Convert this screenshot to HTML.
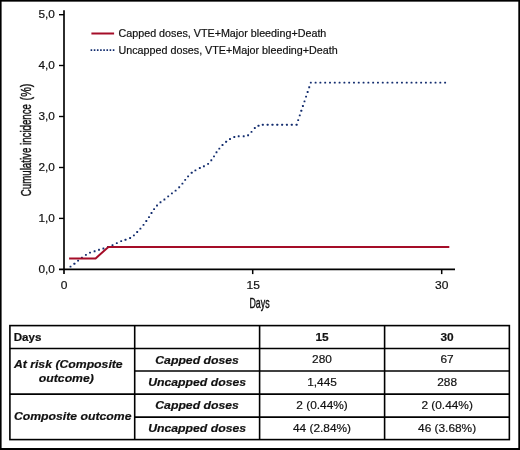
<!DOCTYPE html>
<html>
<head>
<meta charset="utf-8">
<style>
html,body{margin:0;padding:0;background:#fff;}
body{width:520px;height:450px;overflow:hidden;font-family:"Liberation Sans",sans-serif;}
svg{display:block;will-change:transform;}
text{font-family:"Liberation Sans",sans-serif;fill:#111;stroke:#111;stroke-width:0.2px;}
</style>
</head>
<body>
<svg width="520" height="450" viewBox="0 0 520 450">
  <rect x="0" y="0" width="520" height="450" fill="#fff"/>
  <!-- outer border -->
  <rect x="0.75" y="0.8" width="518.4" height="448.3" fill="none" stroke="#000" stroke-width="1.7"/>
  <rect x="0" y="448.05" width="520" height="1.95" fill="#000"/>

  <!-- axes -->
  <g stroke="#000" stroke-width="1.65" fill="none">
    <line x1="64" y1="10.3" x2="64" y2="274.1"/>
    <line x1="59" y1="269.4" x2="455" y2="269.4"/>
    <line x1="59" y1="14.7" x2="64" y2="14.7" stroke-width="1.4"/><line x1="59" y1="65.5" x2="64" y2="65.5" stroke-width="1.4"/><line x1="59" y1="116.5" x2="64" y2="116.5" stroke-width="1.4"/><line x1="59" y1="167.5" x2="64" y2="167.5" stroke-width="1.4"/><line x1="59" y1="218.4" x2="64" y2="218.4" stroke-width="1.4"/>
    <line x1="252.7" y1="269.4" x2="252.7" y2="274.1" stroke-width="1.5"/>
    <line x1="441.7" y1="269.4" x2="441.7" y2="274.1" stroke-width="1.5"/>
  </g>

  <!-- y tick labels -->
  <g font-size="11.4" text-anchor="end"><text x="54.9" y="18.2" textLength="16.4" lengthAdjust="spacingAndGlyphs">5,0</text><text x="54.9" y="69.0" textLength="16.4" lengthAdjust="spacingAndGlyphs">4,0</text><text x="54.9" y="120.0" textLength="16.4" lengthAdjust="spacingAndGlyphs">3,0</text><text x="54.9" y="171.0" textLength="16.4" lengthAdjust="spacingAndGlyphs">2,0</text><text x="54.9" y="221.9" textLength="16.4" lengthAdjust="spacingAndGlyphs">1,0</text><text x="54.9" y="272.9" textLength="16.4" lengthAdjust="spacingAndGlyphs">0,0</text></g>
  <!-- x tick labels -->
  <g font-size="11.4" text-anchor="middle">
    <text x="64" y="288.8" textLength="6.67" lengthAdjust="spacingAndGlyphs">0</text>
    <text x="253.2" y="288.8" textLength="13.36" lengthAdjust="spacingAndGlyphs">15</text>
    <text x="441.7" y="288.8" textLength="13.36" lengthAdjust="spacingAndGlyphs">30</text>
  </g>

  <!-- axis titles -->
  <text transform="translate(30.7,196.2) rotate(-90) scale(0.647,1)" font-size="15" style="stroke-width:0.35px;vector-effect:non-scaling-stroke">Cumulative incidence</text>
  <text transform="translate(30.7,100.4) rotate(-90) scale(0.72,1)" font-size="15" style="stroke-width:0.35px;vector-effect:non-scaling-stroke">(%)</text>
  <text transform="translate(249.5,308) scale(0.63,1)" font-size="14" style="stroke-width:0.35px;vector-effect:non-scaling-stroke">Days</text>

  <!-- legend -->
  <line x1="91.4" y1="33.5" x2="114.1" y2="33.5" stroke="#a50d28" stroke-width="2"/>
  <line x1="90.6" y1="50.2" x2="114.6" y2="50.2" stroke="#122c6e" stroke-width="1.7" stroke-dasharray="1.6 1.57"/>
  <text transform="translate(118.5,37) scale(1.003,0.96)" font-size="10.72">Capped doses, VTE+Major bleeding+Death</text>
  <text transform="translate(118.5,53.5) scale(1.003,0.96)" font-size="10.72">Uncapped doses, VTE+Major bleeding+Death</text>

  <!-- data lines -->
  <g fill="#122c6e"><rect x="69.55" y="265.65" width="1.9" height="1.9" rx="0.5"/><rect x="73.45" y="262.75" width="1.9" height="1.9" rx="0.5"/><rect x="77.15" y="259.65" width="1.9" height="1.9" rx="0.5"/><rect x="80.95" y="256.65" width="1.9" height="1.9" rx="0.5"/><rect x="84.95" y="253.95" width="1.9" height="1.9" rx="0.5"/><rect x="89.05" y="251.65" width="1.9" height="1.9" rx="0.5"/><rect x="93.65" y="250.25" width="1.9" height="1.9" rx="0.5"/><rect x="98.05" y="248.75" width="1.9" height="1.9" rx="0.5"/><rect x="102.45" y="247.55" width="1.9" height="1.9" rx="0.5"/><rect x="106.95" y="245.95" width="1.9" height="1.9" rx="0.5"/><rect x="111.55" y="244.25" width="1.9" height="1.9" rx="0.5"/><rect x="115.85" y="242.15" width="1.9" height="1.9" rx="0.5"/><rect x="120.25" y="240.15" width="1.9" height="1.9" rx="0.5"/><rect x="124.55" y="238.85" width="1.9" height="1.9" rx="0.5"/><rect x="129.15" y="237.05" width="1.9" height="1.9" rx="0.5"/><rect x="132.95" y="234.45" width="1.9" height="1.9" rx="0.5"/><rect x="136.25" y="231.05" width="1.9" height="1.9" rx="0.5"/><rect x="139.45" y="227.65" width="1.9" height="1.9" rx="0.5"/><rect x="142.55" y="223.95" width="1.9" height="1.9" rx="0.5"/><rect x="145.35" y="220.05" width="1.9" height="1.9" rx="0.5"/><rect x="148.05" y="216.15" width="1.9" height="1.9" rx="0.5"/><rect x="150.55" y="212.05" width="1.9" height="1.9" rx="0.5"/><rect x="153.15" y="208.15" width="1.9" height="1.9" rx="0.5"/><rect x="156.05" y="204.55" width="1.9" height="1.9" rx="0.5"/><rect x="159.55" y="201.35" width="1.9" height="1.9" rx="0.5"/><rect x="163.45" y="198.55" width="1.9" height="1.9" rx="0.5"/><rect x="167.25" y="195.45" width="1.9" height="1.9" rx="0.5"/><rect x="170.95" y="192.45" width="1.9" height="1.9" rx="0.5"/><rect x="174.65" y="189.65" width="1.9" height="1.9" rx="0.5"/><rect x="178.25" y="186.25" width="1.9" height="1.9" rx="0.5"/><rect x="181.45" y="182.65" width="1.9" height="1.9" rx="0.5"/><rect x="184.25" y="178.95" width="1.9" height="1.9" rx="0.5"/><rect x="187.15" y="175.45" width="1.9" height="1.9" rx="0.5"/><rect x="190.75" y="171.85" width="1.9" height="1.9" rx="0.5"/><rect x="194.45" y="169.45" width="1.9" height="1.9" rx="0.5"/><rect x="198.85" y="167.05" width="1.9" height="1.9" rx="0.5"/><rect x="202.95" y="165.25" width="1.9" height="1.9" rx="0.5"/><rect x="207.15" y="162.95" width="1.9" height="1.9" rx="0.5"/><rect x="210.35" y="159.35" width="1.9" height="1.9" rx="0.5"/><rect x="213.05" y="155.45" width="1.9" height="1.9" rx="0.5"/><rect x="215.55" y="151.35" width="1.9" height="1.9" rx="0.5"/><rect x="218.35" y="147.65" width="1.9" height="1.9" rx="0.5"/><rect x="221.55" y="144.05" width="1.9" height="1.9" rx="0.5"/><rect x="225.15" y="140.85" width="1.9" height="1.9" rx="0.5"/><rect x="229.05" y="138.05" width="1.9" height="1.9" rx="0.5"/><rect x="233.35" y="136.05" width="1.9" height="1.9" rx="0.5"/><rect x="237.75" y="135.35" width="1.9" height="1.9" rx="0.5"/><rect x="242.75" y="135.35" width="1.9" height="1.9" rx="0.5"/><rect x="247.15" y="134.25" width="1.9" height="1.9" rx="0.5"/><rect x="250.55" y="130.95" width="1.9" height="1.9" rx="0.5"/><rect x="253.85" y="127.05" width="1.9" height="1.9" rx="0.5"/><rect x="257.55" y="124.75" width="1.9" height="1.9" rx="0.5"/><rect x="261.85" y="123.85" width="1.9" height="1.9" rx="0.5"/><rect x="266.68" y="123.85" width="1.9" height="1.9" rx="0.5"/><rect x="271.51" y="123.85" width="1.9" height="1.9" rx="0.5"/><rect x="276.34" y="123.85" width="1.9" height="1.9" rx="0.5"/><rect x="281.16" y="123.85" width="1.9" height="1.9" rx="0.5"/><rect x="285.99" y="123.85" width="1.9" height="1.9" rx="0.5"/><rect x="290.82" y="123.85" width="1.9" height="1.9" rx="0.5"/><rect x="295.65" y="123.85" width="1.9" height="1.9" rx="0.5"/><rect x="297.23" y="119.16" width="1.9" height="1.9" rx="0.5"/><rect x="298.81" y="114.47" width="1.9" height="1.9" rx="0.5"/><rect x="300.38" y="109.78" width="1.9" height="1.9" rx="0.5"/><rect x="301.96" y="105.09" width="1.9" height="1.9" rx="0.5"/><rect x="303.54" y="100.41" width="1.9" height="1.9" rx="0.5"/><rect x="305.12" y="95.72" width="1.9" height="1.9" rx="0.5"/><rect x="306.69" y="91.03" width="1.9" height="1.9" rx="0.5"/><rect x="308.27" y="86.34" width="1.9" height="1.9" rx="0.5"/><rect x="309.85" y="81.65" width="1.9" height="1.9" rx="0.5"/><rect x="314.65" y="81.65" width="1.9" height="1.9" rx="0.5"/><rect x="319.44" y="81.65" width="1.9" height="1.9" rx="0.5"/><rect x="324.24" y="81.65" width="1.9" height="1.9" rx="0.5"/><rect x="329.04" y="81.65" width="1.9" height="1.9" rx="0.5"/><rect x="333.83" y="81.65" width="1.9" height="1.9" rx="0.5"/><rect x="338.63" y="81.65" width="1.9" height="1.9" rx="0.5"/><rect x="343.43" y="81.65" width="1.9" height="1.9" rx="0.5"/><rect x="348.22" y="81.65" width="1.9" height="1.9" rx="0.5"/><rect x="353.02" y="81.65" width="1.9" height="1.9" rx="0.5"/><rect x="357.81" y="81.65" width="1.9" height="1.9" rx="0.5"/><rect x="362.61" y="81.65" width="1.9" height="1.9" rx="0.5"/><rect x="367.41" y="81.65" width="1.9" height="1.9" rx="0.5"/><rect x="372.20" y="81.65" width="1.9" height="1.9" rx="0.5"/><rect x="377.00" y="81.65" width="1.9" height="1.9" rx="0.5"/><rect x="381.80" y="81.65" width="1.9" height="1.9" rx="0.5"/><rect x="386.59" y="81.65" width="1.9" height="1.9" rx="0.5"/><rect x="391.39" y="81.65" width="1.9" height="1.9" rx="0.5"/><rect x="396.19" y="81.65" width="1.9" height="1.9" rx="0.5"/><rect x="400.98" y="81.65" width="1.9" height="1.9" rx="0.5"/><rect x="405.78" y="81.65" width="1.9" height="1.9" rx="0.5"/><rect x="410.58" y="81.65" width="1.9" height="1.9" rx="0.5"/><rect x="415.37" y="81.65" width="1.9" height="1.9" rx="0.5"/><rect x="420.17" y="81.65" width="1.9" height="1.9" rx="0.5"/><rect x="424.96" y="81.65" width="1.9" height="1.9" rx="0.5"/><rect x="429.76" y="81.65" width="1.9" height="1.9" rx="0.5"/><rect x="434.56" y="81.65" width="1.9" height="1.9" rx="0.5"/><rect x="439.35" y="81.65" width="1.9" height="1.9" rx="0.5"/><rect x="444.15" y="81.65" width="1.9" height="1.9" rx="0.5"/></g>
  <polyline fill="none" stroke="#a50d28" stroke-width="2" stroke-linejoin="miter"
    points="69.1,258.4 95.6,258.4 108.4,246.9 449.3,246.9"/>

  <!-- table -->
  <g stroke="#000" stroke-width="1.6" fill="none">
    <rect x="9.9" y="325.6" width="499.45" height="114.00"/>
    <line x1="134.7" y1="325.6" x2="134.7" y2="439.6"/>
    <line x1="259.6" y1="325.6" x2="259.6" y2="439.6"/>
    <line x1="384.6" y1="325.6" x2="384.6" y2="439.6"/>
    <line x1="9.9" y1="348.45" x2="509.35" y2="348.45"/>
    <line x1="134.7" y1="371.0" x2="509.35" y2="371.0"/>
    <line x1="9.9" y1="394.1" x2="509.35" y2="394.1"/>
    <line x1="134.7" y1="417.1" x2="509.35" y2="417.1"/>
  </g>
  <g font-size="12">
    <text x="13.7" y="340.55" font-weight="bold" font-size="11.6">Days</text>
    <g font-weight="bold" font-style="italic" font-size="12.15">
      <text transform="translate(13.9,367.6) scale(1.008,0.945)">At risk (Composite</text>
      <text transform="translate(38.8,381.9) scale(1.008,0.945)">outcome)</text>
      <text transform="translate(13.9,420.3) scale(1.008,0.945)">Composite outcome</text>
      <g text-anchor="middle">
        <text transform="translate(197.1,363.5) scale(1.008,0.945)">Capped doses</text>
        <text transform="translate(197.1,386.2) scale(1.008,0.945)">Uncapped doses</text>
        <text transform="translate(197.1,409.3) scale(1.008,0.945)">Capped doses</text>
        <text transform="translate(197.1,432) scale(1.008,0.945)">Uncapped doses</text>
      </g>
    </g>
    <g text-anchor="middle">
      <text transform="translate(322.0,340.7) scale(0.99,0.925)" font-weight="bold">15</text>
      <text transform="translate(447.1,340.7) scale(0.99,0.925)" font-weight="bold">30</text>
      <text transform="translate(322.0,363.3) scale(0.99,0.925)">280</text>
      <text transform="translate(447.1,363.3) scale(0.99,0.925)">67</text>
      <text transform="translate(322.0,386.3) scale(0.99,0.925)">1,445</text>
      <text transform="translate(447.1,386.3) scale(0.99,0.925)">288</text>
      <text transform="translate(322.0,408.9) scale(0.99,0.925)">2 (0.44%)</text>
      <text transform="translate(447.1,408.9) scale(0.99,0.925)">2 (0.44%)</text>
      <text transform="translate(322.0,431.7) scale(0.99,0.925)">44 (2.84%)</text>
      <text transform="translate(447.1,431.7) scale(0.99,0.925)">46 (3.68%)</text>
    </g>
  </g>
</svg>
</body>
</html>
